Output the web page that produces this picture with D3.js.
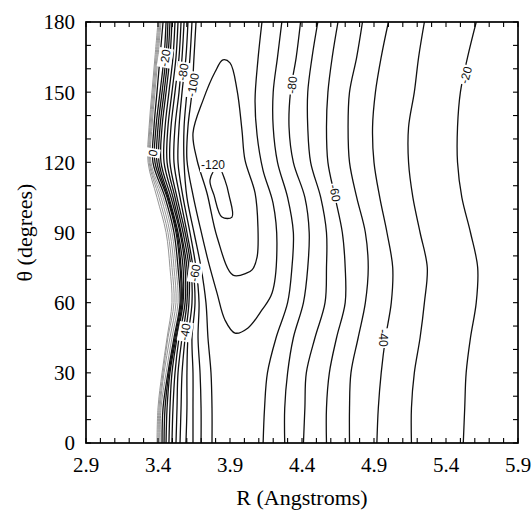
<!DOCTYPE html>
<html>
<head>
<meta charset="utf-8">
<script src="https://cdn.jsdelivr.net/npm/d3@7"></script>
<style>
  html, body { margin: 0; padding: 0; background: #fff; }
  svg { display: block; }
</style>
</head>
<body>
<svg id="chart" width="532" height="515"></svg>
<script>
// Potential energy surface V(R, theta), contours every 10 units.
// Open contours are sampled at fixed theta rows; R (Angstroms) per row.
const thetaRows = [0, 15, 30, 45, 60, 75, 90, 105, 120, 135, 150, 165, 180];

// contours on the long-range side of the well
const outerLevels = [-90, -80, -70, -60, -50, -40, -30, -20];
const outerR = [
  [4.13, 4.14, 4.16, 4.22, 4.30, 4.33, 4.34, 4.30, 4.23, 4.20, 4.20, 4.23, 4.26],
  [4.28, 4.28, 4.30, 4.34, 4.41, 4.44, 4.45, 4.42, 4.34, 4.31, 4.32, 4.36, 4.39],
  [4.41, 4.42, 4.43, 4.49, 4.56, 4.57, 4.57, 4.53, 4.46, 4.44, 4.44, 4.47, 4.51],
  [4.57, 4.57, 4.59, 4.64, 4.70, 4.70, 4.68, 4.63, 4.58, 4.57, 4.58, 4.61, 4.65],
  [4.73, 4.73, 4.74, 4.79, 4.84, 4.86, 4.84, 4.78, 4.73, 4.72, 4.73, 4.78, 4.82],
  [4.92, 4.93, 4.95, 4.98, 5.02, 5.03, 4.99, 4.94, 4.90, 4.89, 4.91, 4.95, 5.00],
  [5.16, 5.16, 5.18, 5.22, 5.25, 5.27, 5.22, 5.17, 5.14, 5.14, 5.18, 5.21, 5.25],
  [5.52, 5.53, 5.54, 5.57, 5.61, 5.62, 5.57, 5.51, 5.48, 5.48, 5.50, 5.55, 5.61]
];

// contours on the repulsive wall
const wallLevels = [-90, -80, -70, -60, -50, -40, -30, -20, -10, 0, 10];
const wallR = [
  [3.775, 3.775, 3.768, 3.747, 3.733, 3.699, 3.650, 3.601, 3.581, 3.581, 3.601, 3.622, 3.636],
  [3.699, 3.699, 3.692, 3.678, 3.685, 3.664, 3.622, 3.574, 3.539, 3.546, 3.567, 3.594, 3.608],
  [3.643, 3.643, 3.643, 3.636, 3.657, 3.643, 3.601, 3.553, 3.511, 3.518, 3.546, 3.567, 3.581],
  [3.594, 3.601, 3.601, 3.608, 3.636, 3.629, 3.588, 3.532, 3.483, 3.490, 3.518, 3.546, 3.560],
  [3.553, 3.560, 3.567, 3.588, 3.615, 3.615, 3.574, 3.518, 3.463, 3.469, 3.497, 3.525, 3.539],
  [3.525, 3.532, 3.539, 3.567, 3.601, 3.601, 3.560, 3.504, 3.442, 3.449, 3.476, 3.504, 3.518],
  [3.497, 3.504, 3.518, 3.546, 3.588, 3.588, 3.553, 3.490, 3.421, 3.428, 3.456, 3.483, 3.497],
  [3.476, 3.483, 3.497, 3.532, 3.574, 3.574, 3.539, 3.476, 3.407, 3.414, 3.442, 3.469, 3.483],
  [3.456, 3.463, 3.483, 3.525, 3.567, 3.560, 3.532, 3.469, 3.393, 3.400, 3.428, 3.456, 3.469],
  [3.442, 3.449, 3.476, 3.518, 3.560, 3.553, 3.525, 3.463, 3.379, 3.386, 3.414, 3.442, 3.456],
  [3.428, 3.435, 3.469, 3.511, 3.553, 3.539, 3.511, 3.449, 3.365, 3.372, 3.393, 3.414, 3.435]
];

// steep high-energy contours packed against the wall (print as a grey band)
const steepLevels = [20, 30, 40, 50];
const steepR = [
  [3.414, 3.421, 3.456, 3.497, 3.539, 3.525, 3.497, 3.435, 3.351, 3.358, 3.379, 3.400, 3.421],
  [3.407, 3.414, 3.442, 3.483, 3.525, 3.511, 3.483, 3.421, 3.344, 3.351, 3.372, 3.393, 3.414],
  [3.400, 3.407, 3.435, 3.469, 3.511, 3.497, 3.469, 3.407, 3.338, 3.344, 3.365, 3.386, 3.407],
  [3.393, 3.400, 3.428, 3.463, 3.497, 3.483, 3.456, 3.393, 3.331, 3.338, 3.358, 3.379, 3.400]
];

// -100 contour: opens through theta = 180, closes near theta = 47
const level100 = [
  [3.664, 180], [3.650, 165.0], [3.636, 150.1], [3.608, 135.1], [3.601, 121.0],
  [3.643, 106.0], [3.692, 92.4], [3.747, 78.2], [3.810, 64.1], [3.865, 52.6],
  [3.935, 47.0], [4.025, 49.2], [4.122, 56.9], [4.192, 64.1], [4.226, 85.5],
  [4.199, 102.6], [4.129, 116.7], [4.088, 131.7], [4.074, 146.6], [4.094, 163.8],
  [4.122, 180]
];

// -110 closed contour
const level110 = [
  [3.851, 163.8], [3.900, 162.5], [3.949, 150.9], [3.983, 133.8], [4.004, 121.0],
  [4.074, 106.9], [4.094, 92.4], [4.088, 79.5], [4.053, 74.0], [4.018, 72.7],
  [3.921, 71.8], [3.810, 88.1], [3.740, 106.9], [3.671, 121.0], [3.643, 132.5],
  [3.713, 146.6], [3.796, 158.6]
];

// -120 closed contour around the minimum
const level120 = [
  [3.817, 118.4], [3.761, 112.4], [3.789, 106.0], [3.844, 96.6],
  [3.914, 96.6], [3.893, 106.0], [3.865, 112.4]
];

// contour labels: text, R, theta, rotation
const labelText  = ["-20", "-40", "-60", "-80", "-100", "-80", "-20", "0", "-60", "-40", "-120"];
const labelR     = [5.539, 4.962, 4.629, 4.331, 3.643, 3.574, 3.449, 3.365, 3.657, 3.588, 3.782];
const labelTheta = [157.3, 44.9, 106.9, 153.1, 153.1, 158.6, 164.6, 124.0, 72.7, 47.5, 118.9];
const labelAngle = [-75, 90, 80, -85, -80, -80, -80, -80, -80, -80, 0];

const xTickValues = [2.9, 3.4, 3.9, 4.4, 4.9, 5.4, 5.9];
const yTickValues = [0, 30, 60, 90, 120, 150, 180];

const svg = d3.select("#chart");
const W = 532, H = 515;
const m = { left: 86, right: 518, top: 22, bottom: 443 };

svg.append("rect").attr("width", W).attr("height", H).attr("fill", "#fff");

const x = d3.scaleLinear().domain([2.9, 5.9]).range([m.left, m.right]);
const y = d3.scaleLinear().domain([0, 180]).range([m.bottom, m.top]);

const plot = svg.append("g");
plot.append("clipPath").attr("id", "clip")
  .append("rect").attr("x", m.left).attr("y", m.top)
  .attr("width", m.right - m.left).attr("height", m.bottom - m.top);

const openLine = d3.line().x(d => x(d[0])).y(d => y(d[1])).curve(d3.curveCatmullRom.alpha(0.5));
const closedLine = d3.line().x(d => x(d[0])).y(d => y(d[1])).curve(d3.curveCatmullRomClosed.alpha(0.5));
const rowsToPoints = rs => rs.map((r, i) => [r, thetaRows[i]]);

// grey band of steep contours
plot.append("g").attr("clip-path", "url(#clip)")
  .attr("fill", "none").attr("stroke", "#8a8a8a").attr("stroke-width", 0.9)
  .selectAll("path").data(steepR).join("path")
  .attr("d", rs => openLine(rowsToPoints(rs)));

const lines = plot.append("g").attr("clip-path", "url(#clip)")
  .attr("fill", "none").attr("stroke", "#111").attr("stroke-width", 1.3)
  .attr("stroke-linejoin", "round");

lines.selectAll("path.outer").data(outerR).join("path")
  .attr("class", "outer").attr("d", rs => openLine(rowsToPoints(rs)));
lines.selectAll("path.wall").data(wallR).join("path")
  .attr("class", "wall").attr("d", rs => openLine(rowsToPoints(rs)));
lines.append("path").attr("d", openLine(level100));
lines.append("path").attr("d", closedLine(level110));
lines.append("path").attr("d", closedLine(level120));

// contour labels with a white knock-out behind the text
const labels = plot.append("g");
labelText.forEach((t, i) => {
  const g = labels.append("g")
    .attr("transform", `translate(${x(labelR[i])},${y(labelTheta[i])}) rotate(${labelAngle[i]})`);
  const txt = g.append("text")
    .attr("text-anchor", "middle").attr("dy", "0.35em")
    .attr("font-family", "Liberation Sans, Arial, sans-serif")
    .attr("font-size", 12).attr("fill", "#111").text(t);
  const bb = txt.node().getBBox();
  g.insert("rect", "text").attr("x", bb.x - 1).attr("y", bb.y)
    .attr("width", bb.width + 2).attr("height", bb.height).attr("fill", "#fff");
});

// frame
svg.append("rect").attr("x", m.left).attr("y", m.top)
  .attr("width", m.right - m.left).attr("height", m.bottom - m.top)
  .attr("fill", "none").attr("stroke", "#000").attr("stroke-width", 1.7);

// inward ticks on all four sides
const xMinor = d3.range(29, 60).map(v => v / 10);
const yMinor = d3.range(0, 181, 10);
const ticks = svg.append("g").attr("stroke", "#000").attr("stroke-width", 1.1);
ticks.selectAll("line.xb").data(xMinor).join("line").attr("class", "xb")
  .attr("x1", d => x(d)).attr("x2", d => x(d)).attr("y1", m.bottom).attr("y2", m.bottom - 5);
ticks.selectAll("line.xt").data(xMinor).join("line").attr("class", "xt")
  .attr("x1", d => x(d)).attr("x2", d => x(d)).attr("y1", m.top).attr("y2", m.top + 5);
ticks.selectAll("line.yl").data(yMinor).join("line").attr("class", "yl")
  .attr("y1", d => y(d)).attr("y2", d => y(d)).attr("x1", m.left).attr("x2", m.left + 5);
ticks.selectAll("line.yr").data(yMinor).join("line").attr("class", "yr")
  .attr("y1", d => y(d)).attr("y2", d => y(d)).attr("x1", m.right).attr("x2", m.right - 5);

const serif = "'Liberation Serif', 'Times New Roman', serif";

svg.append("g").selectAll("text").data(xTickValues).join("text")
  .attr("x", d => x(d)).attr("y", 472)
  .attr("text-anchor", "middle").attr("font-family", serif).attr("font-size", 21)
  .text(d => d.toFixed(1));

svg.append("g").selectAll("text").data(yTickValues).join("text")
  .attr("x", 75).attr("y", d => y(d)).attr("dy", "0.35em")
  .attr("text-anchor", "end").attr("font-family", serif).attr("font-size", 21)
  .text(d => d);

svg.append("text").attr("x", (m.left + m.right) / 2).attr("y", 505)
  .attr("text-anchor", "middle").attr("font-family", serif).attr("font-size", 22)
  .text("R (Angstroms)");

svg.append("text")
  .attr("transform", `translate(32,${(m.top + m.bottom) / 2}) rotate(-90)`)
  .attr("text-anchor", "middle").attr("font-family", serif).attr("font-size", 22)
  .text("θ (degrees)");
</script>
</body>
</html>
